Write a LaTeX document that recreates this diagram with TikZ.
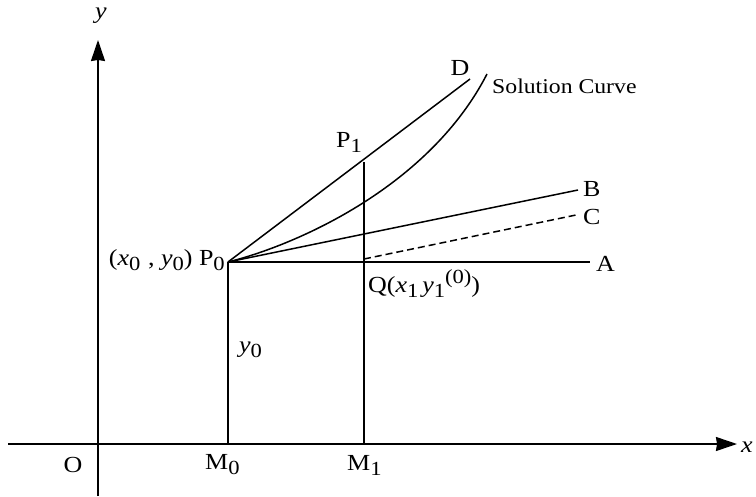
\documentclass[tikz,border=0pt]{standalone}
\usepackage{fontspec}
\setmainfont[FakeStretch=1.13]{Liberation Serif}
\usetikzlibrary{arrows.meta}
\tikzset{
  ln/.style={line width=1.5pt},
  axis/.style={line width=1.5pt,-{Stealth[length=21pt,width=14pt,inset=1pt]}},
  lbl/.style={inner sep=0pt,font=\fontsize{23}{25}\selectfont},
  slbl/.style={inner sep=0pt,font=\fontsize{21}{24}\selectfont}
}
\newcommand{\vx}{\textit{x}}
\newcommand{\vy}{\textit{y}}
\newcommand{\sbs}[1]{\raisebox{-5pt}{\fontsize{20}{20}\selectfont #1}}
\newcommand{\sps}[1]{\raisebox{9pt}{\fontsize{20}{20}\selectfont #1}}
\begin{document}
\begin{tikzpicture}[x=1pt,y=-1pt]
\useasboundingbox (0,0) rectangle (756,496);
% key points
\coordinate (xs) at (8,444);
\coordinate (xe) at (737,444);
\coordinate (ys) at (98,496);
\coordinate (ye) at (98,40);
\coordinate (P0) at (228,262);
\coordinate (M0) at (228,444);
\coordinate (M1) at (364,444);
\coordinate (P1) at (364,162);
\coordinate (Q) at (364,262);
\coordinate (Qc) at (364,259);
\coordinate (Ae) at (590,262);
\coordinate (Be) at (578,190);
\coordinate (Ce) at (576,215);
\coordinate (De) at (470,79);
\coordinate (Se) at (487,74);
% axes
\draw[axis] (xs) -- (xe);
\draw[axis] (ys) -- (ye);
% verticals
\draw[ln] (M0) -- (P0);
\draw[ln] (M1) -- (P1);
% lines
\draw[ln] (P0) -- (Ae);
\draw[ln] (P0) -- (Be);
\draw[ln,dashed,dash pattern=on 7pt off 4pt] (Qc) -- (Ce);
\draw[ln] (P0) -- (De);
\draw[ln] (P0) .. controls (300,244) and (430,185) .. (Se);
% labels
\node[lbl] (ly) at (101,16) {\vy};
\node[lbl,anchor=west] (lx) at (741,447) {\vx};
\node[lbl] (lO) at (73,465) {O};
\node[lbl,anchor=west] (lM0) at (205,465) {M\sbs{0}};
\node[lbl,anchor=west] (lM1) at (347,465) {M\sbs{1}};
\node[lbl,anchor=east] (lP0) at (225,260) {(\vx\sbs{0}\,\,, \vy\sbs{0}) P\sbs{0}};
\node[lbl,anchor=west] (lP1) at (336,142) {P\sbs{1}};
\node[lbl,anchor=west] (lQ) at (368,284) {Q(\vx\sbs{1}\,\vy\sbs{1}\sps{(0)})};
\node[lbl,anchor=west] (ly0) at (239,350) {\vy\sbs{0}};
\node[lbl,anchor=west] (lA) at (596,264) {A};
\node[lbl,anchor=west] (lB) at (583,189) {B};
\node[lbl,anchor=west] (lC) at (583,217) {C};
\node[lbl] (lD) at (460,68) {D};
\node[slbl,anchor=west] (lS) at (492,86) {Solution Curve};
\end{tikzpicture}
\end{document}
